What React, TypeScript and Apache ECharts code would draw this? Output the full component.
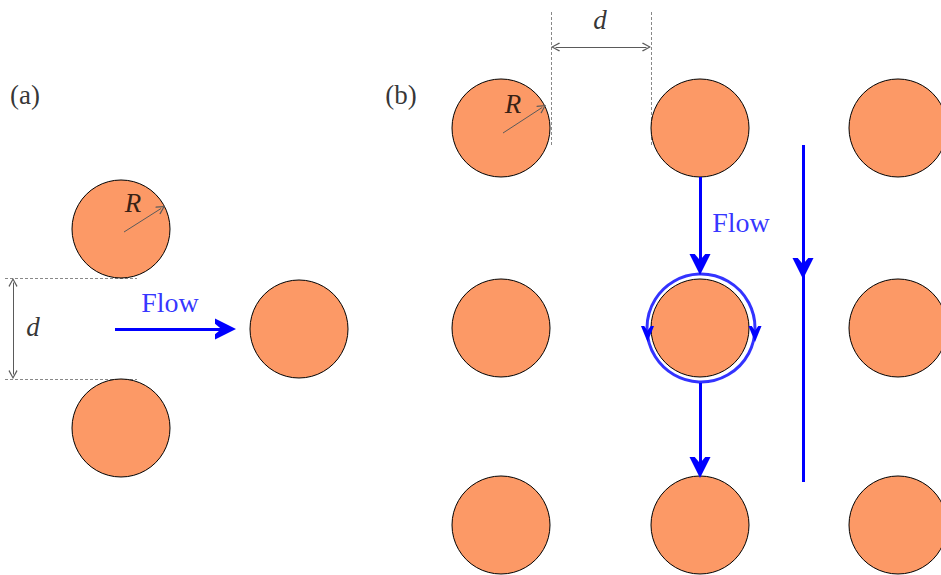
import { useEffect, useRef } from 'react';
import * as echarts from 'echarts';

const W = 941;
const H = 575;
const RADIUS = 49;

// Cylinder centres, panel (a)
const circlesA: number[][] = [[121, 229], [121, 428], [299, 329]];
// Cylinder grid, panel (b)
const colsB = [501, 700, 898];
const rowsB = [128, 328, 525];

// Flow arrows: [start, tip]
const flowArrows: number[][][] = [
  [[115, 329], [236, 329]],
  [[700, 177], [700, 275]],
  [[700, 383], [700, 478]],
  [[803, 145], [803, 279]],
];
const flowPlain: number[][][] = [[[803, 270], [803, 482]]];

// Recirculating ring around the middle cylinder
const ringCentre = [701, 328];
const ringRadius = 54;
const ringArrows: number[][] = [[647.5, 334], [755, 334]];

// Radius arrows [centre, edge]
const radiusArrows: number[][][] = [
  [[124, 232], [165, 206]],
  [[503, 133], [546, 105]],
];
// Dimension arrows (both ends)
const dimArrows: number[][][] = [
  [[13, 278], [13, 379]],
  [[551, 47], [651, 47]],
];
// Dotted extension lines
const guides: number[][][] = [
  [[5, 278], [137, 278]],
  [[5, 379], [137, 379]],
  [[551, 12], [551, 146]],
  [[651, 12], [651, 146]],
];

// Text labels
const labelTexts = ['(a)', '(b)', 'Flow', 'Flow', 'R', 'R', 'd', 'd'];
const labelPos: number[][] = [
  [25, 95], [401, 95], [170, 302], [741, 222], [133, 203], [513, 104], [33, 327], [600, 20],
];
const labelKinds = ['plain', 'plain', 'flow', 'flow', 'italic', 'italic', 'italic', 'italic'];

const ORANGE = '#FC9966';
const BLUE = '#0000FF';
const GREY = '#5a5a5a';
const ARROW = 'path://M10,0 L20,20 L15,20 L10,14 L5,20 L0,20 Z';
const THIN_ARROW = 'path://M5,0 L10,9 L9,10 L5,2.5 L1,10 L0,9 Z';
const FLOW_HEAD = 21;
const FONT = "'Liberation Serif', 'Times New Roman', Times, serif";

function shorten(seg: number[][], by: number): number[][] {
  const [a, b] = seg;
  const dx = b[0] - a[0];
  const dy = b[1] - a[1];
  const len = Math.hypot(dx, dy);
  return [a, [b[0] - (dx / len) * by, b[1] - (dy / len) * by]];
}

export default function App() {
  const ref = useRef<HTMLDivElement>(null);
  useEffect(() => {
    if (!ref.current) return;
    const chart = echarts.init(ref.current, null, { renderer: 'svg' });
    const circlesB: number[][] = [];
    rowsB.forEach((y) => colsB.forEach((x) => circlesB.push([x, y])));
    chart.setOption({
      animation: false,
      backgroundColor: '#ffffff',
      textStyle: { fontFamily: FONT },
      grid: { left: 0, right: 0, top: 0, bottom: 0 },
      xAxis: { type: 'value', min: 0, max: W, show: false },
      yAxis: { type: 'value', min: 0, max: H, inverse: true, show: false },
      series: [
        {
          type: 'lines',
          coordinateSystem: 'cartesian2d',
          z: 1,
          symbol: 'none',
          lineStyle: { color: '#888', width: 1, type: [3, 2], opacity: 1 },
          data: guides.map((c) => ({ coords: c })),
        },
        {
          type: 'scatter',
          z: 2,
          symbol: 'circle',
          symbolSize: RADIUS * 2,
          itemStyle: { color: ORANGE, borderColor: '#000', borderWidth: 1, opacity: 1 },
          data: [...circlesA, ...circlesB],
        },
        {
          type: 'scatter',
          z: 3,
          symbol: 'circle',
          symbolSize: ringRadius * 2,
          itemStyle: { color: 'rgba(0,0,0,0)', borderColor: BLUE, borderWidth: 3 },
          data: [ringCentre],
        },
        {
          type: 'scatter',
          z: 4,
          symbol: ARROW,
          symbolRotate: 180,
          symbolSize: [13, 16],
          itemStyle: { color: BLUE, opacity: 1 },
          data: ringArrows,
        },
        {
          type: 'lines',
          coordinateSystem: 'cartesian2d',
          z: 4,
          symbol: ['none', ARROW],
          symbolSize: FLOW_HEAD,
          lineStyle: { color: BLUE, width: 3, opacity: 1 },
          data: flowArrows.map((c) => ({ coords: shorten(c, FLOW_HEAD / 2) })),
        },
        {
          type: 'lines',
          coordinateSystem: 'cartesian2d',
          z: 4,
          symbol: 'none',
          lineStyle: { color: BLUE, width: 3, opacity: 1 },
          data: flowPlain.map((c) => ({ coords: c })),
        },
        {
          type: 'lines',
          coordinateSystem: 'cartesian2d',
          z: 5,
          symbol: ['none', THIN_ARROW],
          symbolSize: 9,
          lineStyle: { color: GREY, width: 1, opacity: 1 },
          data: radiusArrows.map((c) => ({ coords: shorten(c, 4.5) })),
        },
        {
          type: 'lines',
          coordinateSystem: 'cartesian2d',
          z: 5,
          symbol: [THIN_ARROW, THIN_ARROW],
          symbolSize: 9,
          lineStyle: { color: GREY, width: 1, opacity: 1 },
          data: dimArrows.map((c) => {
            const s = shorten(c, 4.5);
            const r = shorten([s[1], s[0]], 4.5);
            return { coords: [r[1], r[0]] };
          }),
        },
        {
          type: 'scatter',
          z: 6,
          symbolSize: 1,
          itemStyle: { color: 'rgba(0,0,0,0)' },
          data: labelTexts.map((t, i) => ({
            value: labelPos[i],
            name: t,
            label: {
              show: true,
              position: 'inside',
              formatter: t,
              fontFamily: FONT,
              fontSize: labelKinds[i] === 'flow' ? 28 : 27,
              fontStyle: labelKinds[i] === 'italic' ? 'italic' : 'normal',
              color: labelKinds[i] === 'flow' ? BLUE : '#000',
            },
          })),
        },
      ],
    });
    return () => chart.dispose();
  }, []);
  return (
    <div
      ref={ref}
      style={{ position: 'absolute', left: 0, top: 0, width: W, height: H }}
    />
  );
}
